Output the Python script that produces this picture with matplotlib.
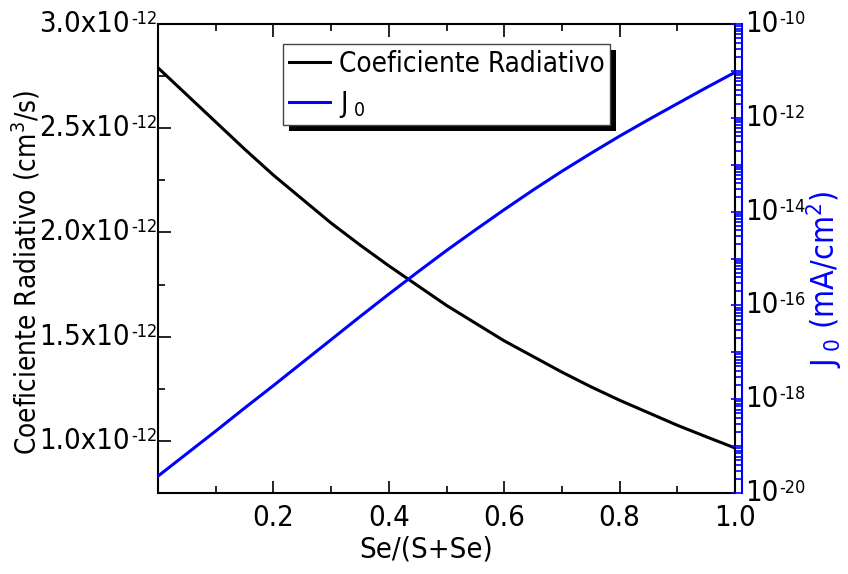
import numpy as np
import matplotlib
matplotlib.use('Agg')
import matplotlib.pyplot as plt
import matplotlib.transforms as mtransforms
from matplotlib.ticker import FixedLocator, FuncFormatter, LogLocator, NullFormatter
from matplotlib.patches import Rectangle

plt.rcParams['font.family'] = ['DejaVu Sans']
plt.rcParams['font.stretch'] = 'condensed'
plt.rcParams['mathtext.default'] = 'regular'

# Se/(S+Se) fraction
x = [0.0, 0.05, 0.1, 0.15, 0.2, 0.25, 0.3, 0.35, 0.4, 0.45, 0.5,
     0.55, 0.6, 0.65, 0.7, 0.75, 0.8, 0.85, 0.9, 0.95, 1.0]
# radiative coefficient (cm^3/s)
coef = [2.79e-12, 2.66e-12, 2.53e-12, 2.40e-12, 2.275e-12, 2.16e-12, 2.045e-12,
        1.94e-12, 1.84e-12, 1.745e-12, 1.65e-12, 1.565e-12, 1.48e-12, 1.405e-12,
        1.33e-12, 1.26e-12, 1.195e-12, 1.135e-12, 1.075e-12, 1.02e-12, 0.966e-12]
# J0 (mA/cm^2)
j0 = [2.29e-20, 6.92e-20, 2.09e-19, 6.46e-19, 1.95e-18, 6.03e-18, 1.86e-17,
      5.75e-17, 1.74e-16, 5.13e-16, 1.48e-15, 4.07e-15, 1.10e-14, 2.88e-14,
      7.24e-14, 1.74e-13, 4.07e-13, 9.12e-13, 2.00e-12, 4.37e-12, 9.33e-12]

left_ticks = [1.0e-12, 1.5e-12, 2.0e-12, 2.5e-12, 3.0e-12]
right_labels = [1e-20, 1e-18, 1e-16, 1e-14, 1e-12, 1e-10]

fs = 21
sfs = 13
fig = plt.figure(figsize=(8.48, 5.74), dpi=100)
ax = fig.add_axes([158/848, 81/574, 577/848, 469/574])
ax2 = ax.twinx()

l1, = ax.plot(x, coef, color='black', lw=2.2)
l2, = ax2.plot(x, j0, color='blue', lw=2.2)

ax.set_xlim(0, 1.0)
ax.set_ylim(0.75e-12, 3.0e-12)
ax2.set_yscale('log')
ax2.set_ylim(1e-20, 1e-10)

ax.xaxis.set_major_locator(FixedLocator([0.2, 0.4, 0.6, 0.8, 1.0]))
ax.xaxis.set_minor_locator(FixedLocator([0.1, 0.3, 0.5, 0.7, 0.9]))
ax.yaxis.set_major_locator(FixedLocator(left_ticks))
ax.yaxis.set_minor_locator(FixedLocator([1.25e-12, 1.75e-12, 2.25e-12, 2.75e-12]))
ax.xaxis.set_major_formatter(FuncFormatter(lambda v, p: '%.1f' % v))
ax.yaxis.set_major_formatter(NullFormatter())

ax.tick_params(which='both', direction='in', top=True, right=False, labelsize=fs,
               width=1.2, pad=8)
ax.tick_params(which='major', length=9)
ax.tick_params(which='minor', length=5)

ax2.yaxis.set_major_locator(LogLocator(base=10, numticks=20))
ax2.yaxis.set_minor_locator(LogLocator(base=10, subs=np.arange(2, 10), numticks=20))
ax2.yaxis.set_minor_formatter(NullFormatter())
ax2.yaxis.set_major_formatter(NullFormatter())
ax2.tick_params(which='both', direction='in', colors='blue', width=1.2)
ax2.tick_params(which='major', length=8)
ax2.tick_params(which='minor', length=4)
ax2.spines['right'].set_position(('outward', 5))
ax2.spines['right'].set_color('blue')
ax2.spines['right'].set_linewidth(1.5)
for s in ['top', 'left', 'bottom']:
    ax2.spines[s].set_visible(False)
for s in ax.spines.values():
    s.set_linewidth(1.5)


def px(dx, dy):
    return mtransforms.ScaledTranslation(dx / 100, dy / 100, fig.dpi_scale_trans)


# left tick labels: "3.0x10" with small superscript
lt = mtransforms.blended_transform_factory(ax.transAxes, ax.transData)
for v in left_ticks:
    ax.text(0, v, '%.1fx10' % (v * 1e12), transform=lt + px(-28, 0), ha='right',
            va='center', fontsize=fs)
    ax.text(0, v, '-12', transform=lt + px(-27, 14), ha='left', va='top', fontsize=sfs)

# right tick labels: "10" with small superscript
rt = mtransforms.blended_transform_factory(ax2.transAxes, ax2.transData)
for v in right_labels:
    ax2.text(1, v, '10', transform=rt + px(10, 0), ha='left', va='center', fontsize=fs)
    ax2.text(1, v, '%d' % round(np.log10(v)), transform=rt + px(44, 14), ha='left',
             va='top', fontsize=sfs)

ax.set_xlabel('Se/(S+Se)', fontsize=fs)
ax.xaxis.set_label_coords(0.465, -0.091)
ax.set_ylabel('Coeficiente Radiativo (cm$^3$/s)', fontsize=20)
ax.yaxis.set_label_coords(-0.200, 0.47)
ax2.set_ylabel('$J_{\\ 0}$ (mA/cm$^2$)', fontsize=23, color='blue')
ax2.yaxis.set_label_coords(1.12, 0.455)

leg = ax2.legend([l1, l2], ['Coeficiente Radiativo', '$J_{\\ 0}$'], loc='upper left',
                 bbox_to_anchor=(283/848, 1 - 44/574), bbox_transform=fig.transFigure,
                 fontsize=20, frameon=True, fancybox=False, framealpha=1,
                 edgecolor='#444444', borderpad=0.2, handlelength=1.5,
                 handletextpad=0.3, labelspacing=0.4, borderaxespad=0)
leg.get_frame().set_linewidth(1.0)

fig.canvas.draw()
bb = leg.get_window_extent()
shadow = Rectangle((bb.x0 + 6, bb.y0 - 6), bb.width, bb.height, transform=None,
                   facecolor='black', edgecolor='none', zorder=leg.get_zorder() - 0.1)
ax2.add_artist(shadow)
leg.set_zorder(10)

fig.savefig('out.png', dpi=100)
